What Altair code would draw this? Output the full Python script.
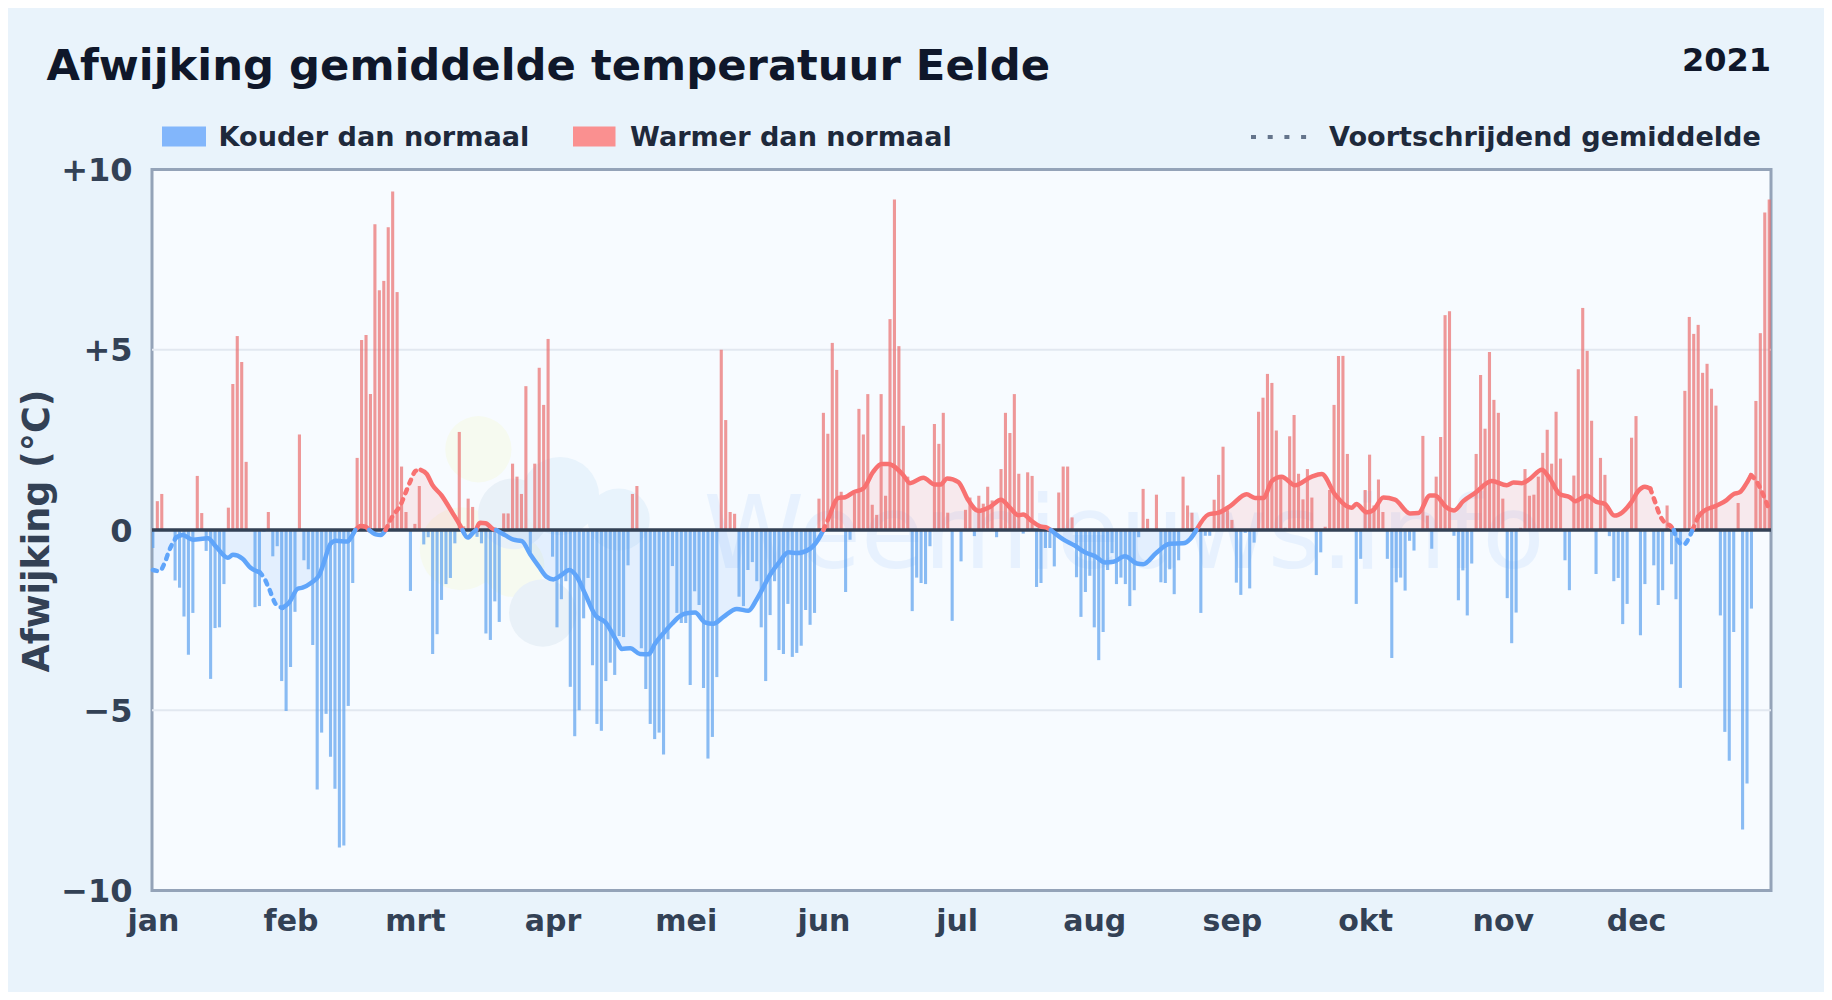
import altair as alt
import pandas as pd

FONT = "DejaVu Sans"
months = ["jan", "feb", "mrt", "apr", "mei", "jun", "jul", "aug", "sep", "okt", "nov", "dec"]
month_start = [0, 31, 59, 90, 120, 151, 181, 212, 243, 273, 304, 334]
y_ticks = [-10, -5, 0, 5, 10]
grid_values = [-5, 5]

anomaly_q1 = [
    -0.5, 0.8, 1.0, 0, 0, -1.4, -1.6, -2.4, -3.46, -2.3, 1.5, 0.47, -0.58, -4.13, -2.72, -2.7, -1.5, 0.62, 4.05, 5.38,
    4.66, 1.89, 0, -2.14, -2.11, -0.05, 0.5, -0.73, -0.45, -4.19, -5.02, -3.8, -2.27, 2.65, -0.84, -1.09, -3.19, -7.2, -5.62, -5.1,
    -6.29, -7.18, -8.81, -8.75, -4.88, -1.47, 2.0, 5.27, 5.41, 3.77, 8.48, 6.65, 6.91, 8.4, 9.39, 6.6, 1.76, 0.5, -1.69, 0.17,
    1.22, -0.4, -0.2, -3.44, -2.89, -1.94, -1.5, -1.33, -0.37, 2.72, 0.1, 0.87, 0.64, -0.19, -0.37, -2.87, -3.05, -1.98, -2.55, 0.46,
    0.46, 1.84, 1.48, 1.0, 3.99, -0.62, 1.84, 4.5, 3.47, 5.3,
]
anomaly_q2 = [
    -0.74, -2.7, -1.92, -1.42, -4.35, -5.72, -5.0, -2.45, -1.33, -3.75, -5.38, -5.57, -4.19, -3.68, -4.02, -2.94, -2.97, -0.98, 1.0, 1.22,
    -3.28, -4.41, -5.38, -5.8, -5.62, -6.23, -3.03, -1.0, -2.3, -2.58, -2.58, -4.3, -1.7, -2.08, -4.38, -6.34, -5.74, -4.08, 5.0, 3.05,
    0.5, 0.45, -1.85, -2.11, -1.11, -0.89, -1.42, -2.7, -4.19, -2.36, -1.42, -3.33, -3.44, -2.05, -3.52, -3.41, -3.21, -2.22, -2.63, -2.3,
    0.87, 3.25, 2.67, 5.19, 4.44, 1.06, -1.72, -0.27, 1.0, 3.36, 2.65, 3.77, 0.7, 0.42, 3.77, 0.95, 5.85, 9.17, 5.1, 2.89,
    1.48, -2.25, -1.32, -1.47, -1.5, -0.45, 2.94, 2.39, 3.25, 0.48, -2.52,
]
anomaly_q3 = [
    0, -0.87, 0.56, 0.9, -0.17, 0.95, 0.73, 1.2, 0.82, -0.2, 1.69, 3.25, 2.69, 3.77, 1.56, -0.1, 1.6, 1.5, -1.58, -1.47,
    -0.5, -0.5, -1.01, 1.04, 1.76, 1.76, 0.35, -1.31, -2.41, -1.72, -1.27, -2.7, -3.61, -2.83, -1.11, -0.64, -1.5, -1.32, -1.5, -2.11,
    -1.67, -0.2, 1.14, 0.31, 0, 0.98, -1.45, -1.47, -1.09, -1.78, -0.84, 1.48, 0.68, 0.48, 0, -2.3, -0.16, -0.16, 0.84, 1.53,
    2.31, 0.55, 0.28, -1.46, -1.8, -0.08, -1.62, -0.35, 3.28, 3.67, 4.33, 4.08, 2.76, 1.42, 0.06, 2.6, 3.19, 1.56, 0.85, 1.69,
    0.9, -1.25, -0.62, 0.09, 1.11, 3.47, 4.83, 4.83, 2.11, 0.0, -2.05, -0.8,
]
anomaly_q4 = [
    1.11, 2.09, 0.68, 1.4, 0.5, -0.8, -3.55, -1.45, -1.32, -1.68, -0.3, -0.57, 0, 2.61, 0.4, -0.52, 1.48, 2.58, 5.96, 6.07,
    -0.16, -1.95, -1.12, -2.37, -0.93, 2.11, 4.3, 2.81, 4.94, 3.61, 3.25, 0.87, -1.89, -3.14, -2.29, 0.06, 1.69, 0.95, 0.98, 1.48,
    2.14, 2.78, 1.84, 3.28, 1.98, -0.84, -1.67, 1.51, 4.46, 6.16, 4.97, 3.03, -1.22, 2.0, 1.53, -0.17, -1.42, -1.33, -2.61, -2.05,
    2.56, 3.16, -2.92, -1.5, 0, -0.98, -2.08, -1.67, 0.68, -0.95, -1.92, -4.38, 3.86, 5.91, 5.44, 5.69, 4.36, 4.61, 3.92, 3.45,
    -2.37, -5.6, -6.4, -2.83, 0.75, -8.31, -7.03, -2.18, 3.58, 5.46, 8.81, 9.17,
]
anomaly = anomaly_q1 + anomaly_q2 + anomaly_q3 + anomaly_q4

avg_days = [
    0, 1.5, 2.6, 3.7, 5.2, 6.7, 9, 12.4, 14.2, 16.9, 18, 20.2, 22, 24, 25, 26.2, 27.7, 29.2, 30.7, 32.6, 33.7, 35.6, 37.5, 38.6, 40,
    41.2, 43.8, 44.7, 45.6, 46.8, 47.9, 48.7, 50.2, 51.3, 52.4, 53.9, 55.8, 56.9, 58, 59.2, 60.3, 61.7, 62.9, 65, 67.4, 69.2, 69.7,
    70.9, 72.2, 72.8, 73.7, 74.9, 76.7, 77.3, 79.4, 81.2, 83.1, 85, 86.9, 88.7, 90.2, 92.1, 93.8, 95.5, 97.4, 99.6, 101.9, 104.5,
    105.6, 107.5, 109.7, 111.6, 113.1, 115.7, 116.9, 118.7, 120.2, 122.1, 124.3, 126.2, 128.5, 131.5, 134.1, 136, 139, 141.2, 143.1,
    145, 148, 149.9, 151, 152.5, 154.4, 155.9, 157.8, 160, 162.2, 164.1, 165.6, 169, 170.5, 173.5, 176.1, 177.3, 178.9, 181.4, 183.6,
    185.9, 188.5, 191, 193, 194.9, 196, 197.9, 199.8, 201.4, 202.2, 205, 207.6, 209.9, 212.2, 214.4, 216.3, 218.9, 221.6, 223, 226,
    229, 232, 233.6, 235, 237.7, 240, 242.6, 246.3, 248.2, 250.1, 252, 254.2, 257.2, 261, 263.2, 266.2, 268.9, 270, 271, 273.4, 274.9,
    277.1, 279.7, 283.1, 285, 287.6, 288.7, 291.4, 293, 295.1, 297.8, 301.5, 304.9, 306.4, 308.3, 310.1, 312.8, 314.3, 316.9, 319.1,
    320.3, 322.9, 325.1, 327, 329.1, 330, 333, 334.5, 336, 337.2, 338.3, 339.4, 340.6, 341.7, 342.5, 343.2, 344.7, 345.8, 346.7, 348,
    349.2, 352.2, 354.4, 355.9, 357.4, 358.9, 359.9, 361.1, 362.6, 364,
]
avg_values = [
    -1.11, -1.14, -0.93, -0.56, -0.21, -0.14, -0.27, -0.23, -0.46, -0.77, -0.69, -0.8, -1.05, -1.17, -1.32, -1.64, -2.06, -2.16, -2.01,
    -1.63, -1.6, -1.47, -1.24, -0.87, -0.38, -0.3, -0.32, -0.19, 0, 0.11, 0.09, 0, -0.12, -0.14, 0, 0.37, 0.7, 1.03, 1.36, 1.64, 1.67,
    1.55, 1.26, 0.96, 0.49, 0.12, 0, -0.21, -0.06, 0, 0.2, 0.19, 0.02, 0, -0.15, -0.27, -0.31, -0.68, -1.01, -1.3, -1.37, -1.24, -1.11,
    -1.3, -1.79, -2.36, -2.56, -3.09, -3.3, -3.28, -3.44, -3.45, -3.15, -2.76, -2.6, -2.39, -2.31, -2.29, -2.56, -2.6, -2.41, -2.19,
    -2.24, -1.92, -1.24, -0.87, -0.62, -0.64, -0.52, -0.25, 0, 0.43, 0.89, 0.91, 1.05, 1.15, 1.61, 1.83, 1.83, 1.52, 1.3, 1.45, 1.26,
    1.26, 1.43, 1.33, 0.83, 0.53, 0.64, 0.84, 0.62, 0.41, 0.43, 0.25, 0.1, 0.06, 0, -0.26, -0.43, -0.62, -0.73, -0.9, -0.88, -0.73,
    -0.93, -0.95, -0.63, -0.38, -0.37, -0.25, 0, 0.43, 0.48, 0.66, 0.99, 0.89, 0.89, 1.36, 1.48, 1.24, 1.48, 1.55, 0.99, 0.66, 0.62,
    0.72, 0.49, 0.56, 0.9, 0.84, 0.46, 0.47, 0.96, 0.96, 0.62, 0.54, 0.8, 1.03, 1.36, 1.24, 1.32, 1.3, 1.42, 1.67, 1.48, 0.99, 0.91,
    0.8, 0.95, 0.78, 0.72, 0.4, 0.42, 0.78, 1.08, 1.2, 1.15, 0.78, 0.4, 0.19, 0.12, 0, -0.25, -0.41, -0.25, 0, 0.37, 0.52, 0.68, 0.83,
    0.99, 1.05, 1.3, 1.52, 1.36, 0.99, 0.56,
]
dashed_ranges = [(0, 5.2), (24, 29.2), (52.4, 60.3), (151, 152.5), (337.2, 348), (359.9, 364)]

BLUE_LINE, RED_LINE = "#60a5fa", "#f87171"
BLUE_BAR, RED_BAR = "#5ea2ee", "#ea7070"

days = list(range(len(anomaly)))
bars = pd.DataFrame({"day": days, "v": anomaly})
bars["kind"] = ["warm" if v >= 0 else "cold" for v in anomaly]

# consecutive stretches of the running mean with one sign and one line style
rows = []
seg = -1
prev = None
for i in range(len(avg_days) - 1):
    a, b = avg_days[i], avg_days[i + 1]
    mid_v = (avg_values[i] + avg_values[i + 1]) / 2
    mid_d = (a + b) / 2
    key = (mid_v >= 0, any(lo <= mid_d <= hi for lo, hi in dashed_ranges))
    if key != prev:
        seg += 1
        rows.append(dict(day=a, v=avg_values[i], seg=seg, warm=key[0], dash=key[1]))
        prev = key
    rows.append(dict(day=b, v=avg_values[i + 1], seg=seg, warm=key[0], dash=key[1]))
line = pd.DataFrame(rows)

x_scale = alt.Scale(domain=[-0.2, 364.4], nice=False)
y_scale = alt.Scale(domain=[-10, 10], nice=False)
label_expr = "[" + ",".join(f"'{m}'" for m in months) + "][indexof([" + ",".join(map(str, month_start)) + "],datum.value)]"
x_enc = alt.X("day:Q", scale=x_scale, axis=alt.Axis(
    values=month_start, labelExpr=label_expr, title=None, grid=False, domain=False, ticks=False,
    labelFont=FONT, labelFontSize=30, labelFontWeight="bold", labelColor="#334155", labelPadding=31, labelAlign="center", labelBaseline="middle", labelFlush=False))
y_enc = alt.Y("v:Q", scale=y_scale, axis=alt.Axis(
    values=y_ticks, labelExpr="datum.value>0?'+'+datum.value:datum.value<0?'\u2212'+abs(datum.value):'0'",
    title="Afwijking (\u00b0C)", titleFont=FONT, titleFontSize=36.5, titleFontWeight="bold", titleColor="#334155", titleX=-95.5, titleY=361,
    domain=False, ticks=False, grid=False,
    labelFont=FONT, labelFontSize=32, labelFontWeight="bold", labelColor="#334155", labelPadding=20, labelOffset=1))

def one(text, **k):
    return alt.Chart(pd.DataFrame({"t": [text]})).mark_text(font=FONT, fontWeight="bold", **k).encode(text="t:N")

# watermark
wm_x = [73.3, 69.4, 81.2, 81.2, 91.7, 104.9, 87.8]
wm_y = [2.24, -0.52, -1.0, 0.45, 0.94, 0.29, -2.3]
wm_s = [4390, 6850, 3850, 5000, 6100, 3850, 4550]
wm_c = ["#f6faf0", "#f6faf0", "#f6faf0", "#e9f1f8", "#e8f3fc", "#e8f3fc", "#e9f1f8"]
wm = pd.DataFrame({"day": wm_x, "v": wm_y, "s": wm_s, "c": wm_c, "o": range(7)})
blobs = alt.Chart(wm).mark_circle(opacity=1).encode(
    x=alt.X("day:Q", scale=x_scale), y=alt.Y("v:Q", scale=y_scale), order="o:Q",
    size=alt.Size("s:Q", scale=None), color=alt.Color("c:N", scale=None))
wm_text = alt.Chart(pd.DataFrame({"t": ["Weernieuws.info"]})).mark_text(
    font=FONT, fontSize=102, fontWeight="normal", color="#60a5fa", opacity=0.1, align="center", baseline="alphabetic"
).encode(text="t:N", x=alt.value(972), y=alt.value(398))

grid = alt.Chart(pd.DataFrame({"v": grid_values})).mark_rule(color="#e2e8f0", strokeWidth=2).encode(
    y=alt.Y("v:Q", scale=y_scale))

area = lambda warm, col: alt.Chart(line[line.warm == warm]).mark_area(
    color=col, opacity=0.13, interpolate="monotone").encode(
    x=x_enc, y=y_enc, y2=alt.datum(0), detail="seg:N")

def bar_layer(kind, col):
    return alt.Chart(bars[bars.kind == kind]).mark_rule(color=col, opacity=0.72, strokeWidth=3.1, clip=True).encode(
        x=x_enc, y=y_enc, y2=alt.datum(0))

zero = alt.Chart(pd.DataFrame({"v": [0]})).mark_rule(color="#334155", strokeWidth=3.5).encode(y=alt.Y("v:Q", scale=y_scale))

def line_layer(warm, dash, col):
    d = line[(line.warm == warm) & (line.dash == dash)]
    kw = dict(strokeDash=[4, 6.5]) if dash else {}
    return alt.Chart(d).mark_line(color=col, strokeWidth=4.5, interpolate="monotone", strokeCap="round", **kw).encode(
        x=x_enc, y=y_enc, detail="seg:N")

# header and legend
px = lambda abs_x: abs_x - 152
py = lambda abs_y: abs_y - 169.5
title = one("Afwijking gemiddelde temperatuur Eelde", fontSize=43.3, color="#0f172a", align="left", baseline="alphabetic").encode(
    x=alt.value(px(46.5)), y=alt.value(py(80)))
year = one("2021", fontSize=32, color="#0f172a", align="right", baseline="alphabetic").encode(
    x=alt.value(px(1771)), y=alt.value(py(71)))
def swatch(x0, x1, col):
    return alt.Chart(pd.DataFrame({"t": [0]})).mark_rect(color=col).encode(
        x=alt.value(px(x0)), x2=alt.value(px(x1)), y=alt.value(py(126.5)), y2=alt.value(py(146.5)))
def leg(text, x0):
    return one(text, fontSize=27.1, color="#1e293b", align="left", baseline="middle").encode(
        x=alt.value(px(x0)), y=alt.value(py(137.5)))
dotted = alt.Chart(pd.DataFrame({"t": [0]})).mark_rule(color="#64748b", strokeWidth=4, strokeDash=[5, 11.7]).encode(
    x=alt.value(px(1251)), x2=alt.value(px(1308)), y=alt.value(py(137)))

chart = alt.layer(
    blobs, wm_text, grid,
    area(True, RED_LINE), area(False, BLUE_LINE),
    bar_layer("warm", RED_BAR), bar_layer("cold", BLUE_BAR),
    zero,
    line_layer(True, False, RED_LINE), line_layer(False, False, BLUE_LINE),
    line_layer(True, True, RED_LINE), line_layer(False, True, BLUE_LINE),
    title, year,
    swatch(162, 206, "#82b6fb"), leg("Kouder dan normaal", 218.5),
    swatch(573, 615.5, "#fa9090"), leg("Warmer dan normaal", 630),
    dotted, leg("Voortschrijdend gemiddelde", 1329),
).resolve_scale(x="shared", y="shared").properties(
    width=1619, height=721,
    padding={"left": 144, "top": 161.5, "right": 53, "bottom": 101.5},
    autosize=alt.AutoSizeParams(type="none"),
    background="#e9f3fb",
).configure_view(fill="#f7fbff", stroke="#94a3b8", strokeWidth=3)

chart.save("out.html", embed_options={"renderer": "svg", "actions": False})
